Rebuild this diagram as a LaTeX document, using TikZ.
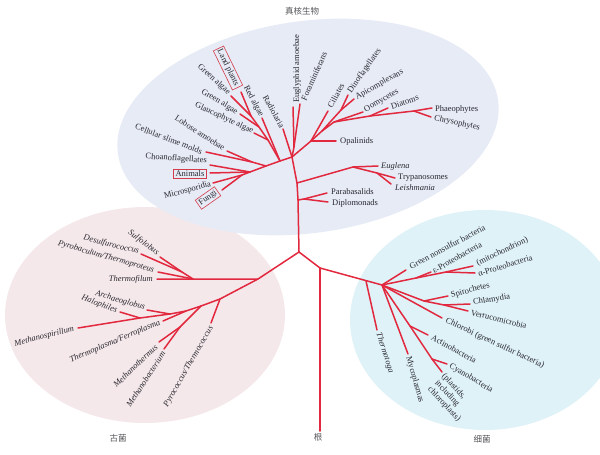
\documentclass[tikz,border=0pt]{standalone}
\usepackage{fontspec}
\setmainfont{Liberation Serif}
\newfontfamily\cjk{Noto Sans CJK SC}
\definecolor{treered}{RGB}{226,40,62}
\definecolor{boxred}{RGB}{210,60,75}
\definecolor{txt}{RGB}{40,40,48}
\definecolor{cntxt}{RGB}{85,85,90}
\definecolor{eukfill}{RGB}{231,235,245}
\definecolor{archfill}{RGB}{245,232,234}
\definecolor{bactfill}{RGB}{223,242,247}
\begin{document}
\begin{tikzpicture}[x=1pt,y=-1pt,
  br/.style={draw=treered,line width=1.5pt,line cap=round,line join=round},
  lb/.style={text=txt,inner sep=1pt,font=\fontsize{8.5}{9.5}\selectfont},
  il/.style={text=txt,inner sep=1pt,font=\fontsize{8.5}{9.5}\selectfont\itshape},
  bx/.style={lb,draw=boxred,line width=0.6pt,inner sep=1.8pt},
  cn/.style={text=cntxt,inner sep=1pt,font=\cjk\fontsize{8.5}{9}\selectfont}]
\useasboundingbox (0,0) rectangle (600,455);
\begin{scope}
\clip (0,0) rectangle (600,455);
\fill[archfill] (145,315) ellipse [x radius=140pt,y radius=108pt];
\fill[bactfill] (485,320) ellipse [x radius=135pt,y radius=110pt];
\fill[eukfill,rotate around={8:(308,127)}] (308,127) ellipse [x radius=192pt,y radius=106pt];
\end{scope}

% ---------- coordinates: trunk ----------
\coordinate (C0) at (299,252);
\coordinate (R0) at (320,431);
\coordinate (R1) at (320,268);
\coordinate (BN) at (382,285);
\coordinate (TG0) at (366,281);
% eukaryotes
\coordinate (PDb) at (298,200);
\coordinate (EGb) at (297,183);
\coordinate (E3) at (292,157);
\coordinate (PDn) at (304,199);
\coordinate (tPara) at (327,193);
\coordinate (tDiplo) at (328,202);
\coordinate (EGn) at (353,167);
\coordinate (tEugl) at (378,166);
\coordinate (TLn) at (377,173);
\coordinate (tTryp) at (395,178);
\coordinate (tLeish) at (391,184);
\coordinate (EFn) at (294,147);
\coordinate (tEugly) at (293,107);
\coordinate (tForam) at (300,104);
\coordinate (tRadio) at (283,129);
\coordinate (A) at (311,141);
\coordinate (B) at (322,131);
\coordinate (Cc) at (334,122);
\coordinate (F) at (370,116);
\coordinate (P) at (414,111);
\coordinate (D) at (341,110);
\coordinate (tOpal) at (336,141);
\coordinate (tCil) at (328,111);
\coordinate (tDino) at (348,95);
\coordinate (tApi) at (354,99);
\coordinate (tOom) at (363,112);
\coordinate (tDiat) at (388,108);
\coordinate (tPhaeo) at (432,108);
\coordinate (tChry) at (431,117);
\coordinate (PL) at (280,161);
\coordinate (AM) at (266,166);
\coordinate (OP) at (250,172);
\coordinate (G1) at (251,116);
\coordinate (G2) at (259,127);
\coordinate (G3) at (268,140);
\coordinate (tRed) at (262,118);
\coordinate (tGlau) at (254,133);
\coordinate (tGreenB) at (240,114);
\coordinate (tGreenA) at (231,96);
\coordinate (tLand) at (241,92);
\coordinate (LB) at (252,162);
\coordinate (tSlime) at (206,152);
\coordinate (tLobose) at (227,151);
\coordinate (tChoano) at (210,165);
\coordinate (tAnim) at (210,173);
\coordinate (FM) at (242,175);
\coordinate (tMicro) at (213,183);
\coordinate (tFungi) at (222,190);
% archaea
\coordinate (EU0) at (258,279);
\coordinate (K1) at (193,279);
\coordinate (K2) at (182,272);
\coordinate (tThermof) at (157,279);
\coordinate (tPyrob) at (158,272);
\coordinate (tDesulf) at (141,254);
\coordinate (tSulfo) at (160,257);
\coordinate (EU1) at (220,299);
\coordinate (tPyro) at (211,323);
\coordinate (EU2) at (201,306);
\coordinate (MB) at (180,327);
\coordinate (tMtherm) at (159,342);
\coordinate (tMbact) at (164,349);
\coordinate (EU3) at (186,311);
\coordinate (tTplasma) at (163,321);
\coordinate (EU4) at (170,314);
\coordinate (tMspir) at (78,328);
\coordinate (HB) at (140,318);
\coordinate (tHalo) at (120,312);
\coordinate (tArch) at (147,310);
% bacteria
\coordinate (tGN) at (406,270);
\coordinate (PR) at (416,278);
\coordinate (tEps) at (431,272);
\coordinate (AN) at (446,272);
\coordinate (tMito) at (473,266);
\coordinate (tAlpha) at (475,273);
\coordinate (SP) at (424,301);
\coordinate (tSpiro) at (448,296);
\coordinate (CV) at (444,305);
\coordinate (tChlam) at (470,304);
\coordinate (tVerr) at (468,311);
\coordinate (tChlor) at (442,318);
\coordinate (AC) at (410,326);
\coordinate (tActino) at (428,335);
\coordinate (CY) at (432,359);
\coordinate (tCyano) at (447,364);
\coordinate (tPlast) at (442,372);
\coordinate (tMyco) at (408,354);
\coordinate (tTmtoga) at (377,330);

% ---------- branches ----------
\draw[br] (R0) -- (R1);
\draw[br] (C0) -- (R1) -- (BN);
\draw[br] (C0) -- (PDb) -- (EGb) -- (E3);
\draw[br] (PDb) -- (PDn) -- (tPara);
\draw[br] (PDn) -- (tDiplo);
\draw[br] (EGb) -- (EGn) -- (tEugl);
\draw[br] (EGn) -- (TLn) -- (tTryp);
\draw[br] (TLn) -- (tLeish);
\draw[br] (E3) -- (EFn) -- (tEugly);
\draw[br] (EFn) -- (tForam);
\draw[br] (E3) -- (tRadio);
\draw[br] (E3) -- (A) -- (B) -- (Cc) -- (F) -- (P) -- (tPhaeo);
\draw[br] (P) -- (tChry);
\draw[br] (A) -- (tOpal);
\draw[br] (A) -- (tCil);
\draw[br] (B) -- (D) -- (tDino);
\draw[br] (D) -- (tApi);
\draw[br] (Cc) -- (tOom);
\draw[br] (F) -- (tDiat);
\draw[br] (E3) -- (PL) -- (AM) -- (OP);
\draw[br] (tRed) -- (PL);
\draw[br] (PL) -- (G3) -- (G2) -- (G1) -- (tLand);
\draw[br] (G1) -- (tGreenA);
\draw[br] (G2) -- (tGreenB);
\draw[br] (G3) -- (tGlau);
\draw[br] (AM) -- (LB) -- (tSlime);
\draw[br] (LB) -- (tLobose);
\draw[br] (OP) -- (tChoano);
\draw[br] (OP) -- (tAnim);
\draw[br] (OP) -- (FM) -- (tMicro);
\draw[br] (FM) -- (tFungi);
% archaea
\draw[br] (C0) -- (EU0) -- (K1) -- (tThermof);
\draw[br] (K1) -- (tPyrob);
\draw[br] (K1) -- (K2) -- (tDesulf);
\draw[br] (K2) -- (tSulfo);
\draw[br] (EU0) -- (EU1) -- (EU2) -- (EU3) -- (EU4) -- (HB) -- (tMspir);
\draw[br] (EU1) -- (tPyro);
\draw[br] (EU2) -- (MB) -- (tMtherm);
\draw[br] (MB) -- (tMbact);
\draw[br] (EU3) -- (tTplasma);
\draw[br] (EU4) -- (tArch);
\draw[br] (HB) -- (tHalo);
% bacteria
\draw[br] (TG0) -- (tTmtoga);
\draw[br] (BN) -- (tGN);
\draw[br] (BN) -- (PR) -- (AN) -- (tMito);
\draw[br] (PR) -- (tEps);
\draw[br] (AN) -- (tAlpha);
\draw[br] (BN) -- (SP) -- (tSpiro);
\draw[br] (SP) -- (CV) -- (tChlam);
\draw[br] (CV) -- (tVerr);
\draw[br] (BN) -- (tChlor);
\draw[br] (BN) -- (AC) -- (tActino);
\draw[br] (AC) -- (CY) -- (tCyano);
\draw[br] (CY) -- (tPlast);
\draw[br] (BN) -- (tMyco);

% ---------- labels: eukaryotes ----------
\node[bx,rotate=-64] (lLand) at (228,68) {Land plants};
\node[lb,anchor=east,rotate=-42] (lGreenA) at (230,94) {Green algae};
\node[lb,anchor=east,rotate=-31] (lGreenB) at (238,113) {Green algae};
\node[lb,anchor=east,rotate=-25] (lGlau) at (254,132) {Glaucophyte algae};
\node[lb,anchor=east,rotate=-62] (lRed) at (262,117) {Red algae};
\node[lb,anchor=east,rotate=-61] (lRadio) at (283,128) {Radiolaria};
\node[lb,anchor=west,rotate=90] (lEugly) at (297,104) {Euglyphid amoebae};
\node[lb,anchor=west,rotate=66] (lForam) at (303,101) {Foraminiferans};
\node[lb,anchor=west,rotate=61] (lCil) at (329,108) {Ciliates};
\node[lb,anchor=west,rotate=55] (lDino) at (349,93) {Dinoflagellates};
\node[lb,anchor=west,rotate=29] (lApi) at (355,98) {Apicomplexans};
\node[lb,anchor=west,rotate=30] (lOom) at (364,111) {Oomycetes};
\node[lb,anchor=west,rotate=19] (lDiat) at (390,107) {Diatoms};
\node[lb,anchor=west] (lPhaeo) at (434,109) {Phaeophytes};
\node[lb,anchor=west,rotate=-12] (lChry) at (433,118) {Chrysophytes};
\node[lb,anchor=west] (lOpal) at (339,141) {Opalinids};
\node[il,anchor=west] (lEugl) at (380,166) {Euglena};
\node[lb,anchor=west] (lTryp) at (397,178) {Trypanosomes};
\node[il,anchor=west] (lLeish) at (394,188) {Leishmania};
\node[lb,anchor=west] (lPara) at (330,192) {Parabasalids};
\node[lb,anchor=west] (lDiplo) at (331,203) {Diplomonads};
\node[lb,anchor=east,rotate=-4] (lChoano) at (208,161) {Choanoflagellates};
\node[bx] (lAnim) at (190,174) {Animals};
\node[lb,anchor=east,rotate=15] (lMicro) at (212,184) {Microsporidia};
\node[bx,rotate=35] (lFungi) at (208,198) {Fungi};
\node[lb,anchor=east,rotate=-21] (lSlime) at (203,152) {Cellular slime molds};
\node[lb,anchor=east,rotate=-33] (lLobose) at (225,149) {Lobose amoebae};
% ---------- labels: archaea ----------
\node[il,anchor=east,rotate=-36] (lSulfo) at (159,254) {Sulfolobus};
\node[il,anchor=east,rotate=-14] (lDesulf) at (140,252) {Desulfurococcus};
\node[il,anchor=east,rotate=-16] (lPyrob) at (155,271) {Pyrobaculum/Thermoproteus};
\node[il,anchor=east] (lThermof) at (154,279) {Thermofilum};
\node[il,anchor=east,rotate=-16] (lArch) at (146,308) {Archaeoglobus};
\node[il,anchor=east,rotate=-20] (lHalo) at (118,311) {Halophiles};
\node[il,anchor=east,rotate=14] (lMspir) at (75,329) {Methanospirillum};
\node[il,anchor=east,rotate=23] (lTplasma) at (161,322) {Thermoplasma/Ferroplasma};
\node[il,anchor=east,rotate=44] (lMtherm) at (157,345) {Methanothermus};
\node[il,anchor=east,rotate=57] (lMbact) at (164,351) {Methanobacterium};
\node[il,anchor=east,rotate=60] (lPyro) at (212,326) {Pyrococcus/Thermococcus};
% ---------- labels: bacteria ----------
\node[lb,anchor=west,rotate=28] (lGN) at (409,267) {Green nonsulfur bacteria};
\node[lb,anchor=west,rotate=30] (lEps) at (432,272) {ε-Proteobacteria};
\node[lb,anchor=west,rotate=25] (lMito) at (476,264) {(mitochondrion)};
\node[lb,anchor=west,rotate=17] (lAlpha) at (477,274) {α-Proteobacteria};
\node[lb,anchor=west,rotate=15] (lSpiro) at (450,296) {Spirochetes};
\node[lb,anchor=west,rotate=9] (lChlam) at (472,303) {Chlamydia};
\node[lb,anchor=west,rotate=-14] (lVerr) at (470,312) {Verrucomicrobia};
\node[lb,anchor=west,rotate=-25] (lChlor) at (445,320) {Chlorobi (green sulfur bacteria)};
\node[lb,anchor=west,rotate=-29] (lActino) at (431,336) {Actinobacteria};
\node[lb,anchor=west,rotate=-31] (lCyano) at (449,365) {Cyanobacteria};
\node[lb,anchor=north west,rotate=-47,align=left] (lPlast) at (446,371) {(plastids,\\including\\chloroplasts)};
\node[lb,anchor=west,rotate=-74] (lMyco) at (408,356) {Mycoplasmas};
\node[il,anchor=west,rotate=-72] (lTmtoga) at (378,332) {Thermotoga};
% ---------- group labels ----------
\node[cn] (gEuk) at (302,11) {真核生物};
\node[cn] (gArc) at (118,438) {古菌};
\node[cn] (gBac) at (482,439) {细菌};
\node[cn] (gRoot) at (318,437) {根};
\end{tikzpicture}
\end{document}
